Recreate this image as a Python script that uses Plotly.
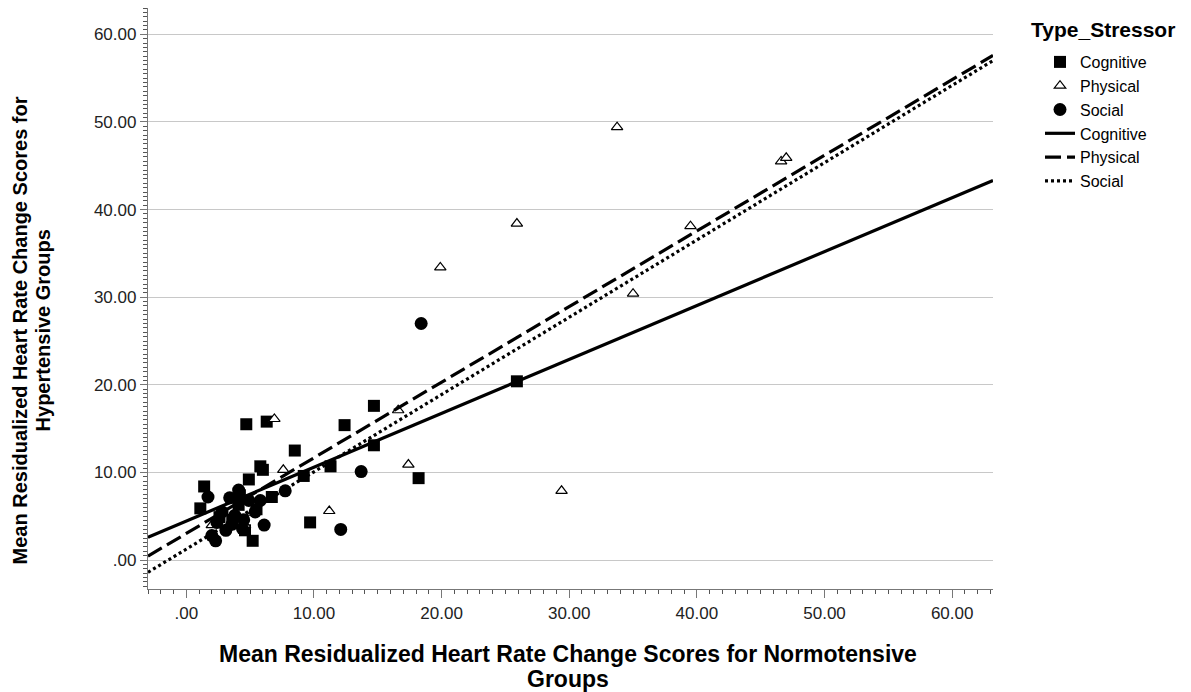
import plotly.graph_objects as go

# ---- data ----
cog_x = [25.9, 14.7, 12.4, 6.3, 4.7, 8.5, 14.7, 11.3, 9.2, 18.2, 9.7, 5.8, 6.0, 4.9, 1.4, 1.1,
         6.7, 5.2, 4.1, 3.6, 4.6, 4.2, 2.6, 5.5]
cog_y = [20.4, 17.6, 15.4, 15.8, 15.5, 12.5, 13.1, 10.7, 9.6, 9.35, 4.3, 10.7, 10.3, 9.2, 8.4, 5.9,
         7.2, 2.2, 6.3, 4.6, 3.4, 7.4, 4.9, 5.8]

phy_x = [33.75, 39.5, 46.6, 47.0, 25.9, 19.9, 35.0, 6.9, 7.6, 17.4, 11.2, 29.4, 16.6, 4.6, 5.2, 2.0]
phy_y = [49.4, 38.1, 45.5, 45.9, 38.4, 33.4, 30.4, 16.1, 10.3, 10.9, 5.6, 7.9, 17.1, 4.0, 5.4, 4.0]

soc_x = [18.4, 13.7, 12.1, 7.75, 6.1, 1.7, 2.3, 2.0, 3.4, 4.1, 4.9, 3.8, 3.1, 5.4, 4.5, 2.8, 5.8,
         3.6, 4.4, 2.4]
soc_y = [27.0, 10.1, 3.5, 7.9, 4.0, 7.2, 2.2, 2.8, 7.1, 8.0, 6.8, 5.1, 3.4, 5.5, 4.6, 5.5, 6.8,
         4.1, 3.6, 4.3]

# fit lines (intercept, slope)
fit_names = ["Cognitive", "Physical", "Social"]
fit_intercept = [4.45, 3.04, 1.25]
fit_slope = [0.615, 0.863, 0.882]
fit_dash = ["solid", "16px,6px", "3px,3px"]

x_range = [-3.0, 63.2]
y_range = [-3.3, 63.0]
tick_vals = [0, 10, 20, 30, 40, 50, 60]
tick_text = [".00", "10.00", "20.00", "30.00", "40.00", "50.00", "60.00"]

FONT = "Liberation Sans, Arial, sans-serif"

fig = go.Figure()

fig.add_trace(go.Scatter(x=cog_x, y=cog_y, mode="markers", name="Cognitive",
                         marker=dict(symbol="square", size=12, color="black")))
fig.add_trace(go.Scatter(x=phy_x, y=phy_y, mode="markers", name="Physical",
                         marker=dict(symbol="triangle-up", size=10, color="white",
                                     line=dict(color="black", width=1.2))))
fig.add_trace(go.Scatter(x=soc_x, y=soc_y, mode="markers", name="Social",
                         marker=dict(symbol="circle", size=13, color="black")))

for nm, b0, b1, ds in zip(fit_names, fit_intercept, fit_slope, fit_dash):
    xs = x_range
    ys = [b0 + b1 * v for v in xs]
    fig.add_trace(go.Scatter(x=xs, y=ys, mode="lines", name=nm,
                             line=dict(color="black", width=3.2, dash=ds)))

axis_font = dict(family=FONT, size=17, color="#222")

fig.update_xaxes(range=x_range, tickvals=tick_vals, ticktext=tick_text,
                 ticks="outside", ticklen=8, tickcolor="#777", tickwidth=1,
                 minor=dict(dtick=1, tick0=0, ticks="outside", ticklen=4, tickcolor="#555"),
                 showline=True, linecolor="#777", linewidth=1.3,
                 showgrid=False, zeroline=False, tickfont=axis_font)
fig.update_yaxes(range=y_range, tickvals=tick_vals, ticktext=tick_text,
                 ticks="outside", ticklen=7, tickcolor="#777", tickwidth=1,
                 minor=dict(dtick=0.5, tick0=0, ticks="outside", ticklen=4, tickcolor="#555",
                            showgrid=False),
                 showline=True, linecolor="#777", linewidth=1.3,
                 showgrid=True, gridcolor="#c8c8c8", gridwidth=1.3,
                 zeroline=False, tickfont=axis_font)

# axis titles (one annotation per line for tight line spacing)
xt_font = dict(family=FONT, size=23, color="black")
fig.add_annotation(text="<b>Mean Residualized Heart Rate Change Scores for Normotensive</b>",
                   xref="paper", yref="paper", x=0.497, y=(589 - 654) / 581,
                   xanchor="center", yanchor="middle", showarrow=False, font=xt_font)
fig.add_annotation(text="<b>Groups</b>",
                   xref="paper", yref="paper", x=0.497, y=(589 - 679) / 581,
                   xanchor="center", yanchor="middle", showarrow=False, font=xt_font)
yt_font = dict(family=FONT, size=20, color="black")
fig.add_annotation(text="<b>Mean Residualized Heart Rate Change Scores for</b>",
                   xref="paper", yref="paper", x=-0.1515, y=0.445,
                   xanchor="center", yanchor="middle", showarrow=False, textangle=-90,
                   font=yt_font)
fig.add_annotation(text="<b>Hypertensive Groups</b>",
                   xref="paper", yref="paper", x=-0.1243, y=0.445,
                   xanchor="center", yanchor="middle", showarrow=False, textangle=-90,
                   font=yt_font)

# legend title as annotation
fig.add_annotation(text="<b>Type_Stressor</b>", xref="paper", yref="paper",
                   x=(1029 - 148) / 845, y=(589 - 30) / 581, xanchor="left", yanchor="middle",
                   showarrow=False, font=dict(family=FONT, size=21, color="black"))

fig.update_layout(
    width=1191, height=692,
    margin=dict(l=148, r=198, t=8, b=103),
    paper_bgcolor="white", plot_bgcolor="white",
    showlegend=True,
    legend=dict(font=dict(family=FONT, size=16, color="black"),
                xref="container", yref="container", x=1040 / 1191, y=1 - 45 / 692,
                xanchor="left", yanchor="top", itemwidth=30,
                bgcolor="rgba(0,0,0,0)"),
)

fig.write_html("out.html")
